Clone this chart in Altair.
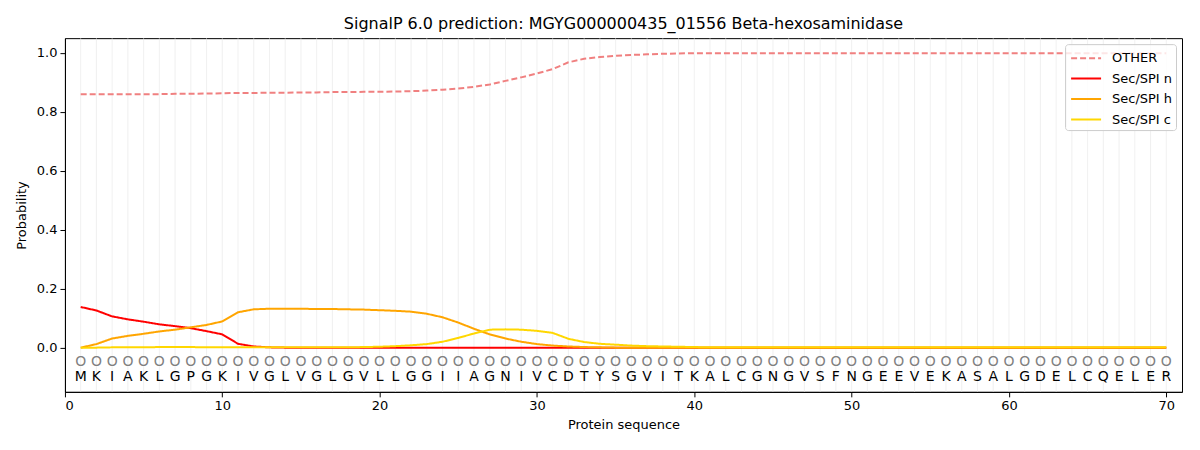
import altair as alt
import pandas as pd

title = "SignalP 6.0 prediction: MGYG000000435_01556 Beta-hexosaminidase"
sequence = list("MKIAKLGPGKIVGLVGLGVLLGGIIAGNIVCDTYSGVITKALCGNGVSFNGEEVEKASALGDELCQELER")
positions = list(range(1, len(sequence) + 1))

other = [0.860, 0.860, 0.860, 0.860, 0.860, 0.860, 0.861, 0.861, 0.862, 0.863,
         0.864, 0.864, 0.865, 0.865, 0.866, 0.866, 0.867, 0.867, 0.868, 0.868,
         0.869, 0.870, 0.872, 0.875, 0.879, 0.885, 0.893, 0.905, 0.917, 0.930,
         0.945, 0.968, 0.980, 0.986, 0.990, 0.993, 0.995, 0.997, 0.998, 0.999] + [0.999] * 30
sec_n = [0.138, 0.126, 0.106, 0.096, 0.088, 0.079, 0.073, 0.066, 0.056, 0.045,
         0.013, 0.004, 0.001] + [0.0] * 57
sec_h = [0.000, 0.012, 0.031, 0.040, 0.047, 0.055, 0.061, 0.069, 0.077, 0.089,
         0.120, 0.130, 0.132, 0.132, 0.132, 0.131, 0.131, 0.130, 0.129, 0.127,
         0.125, 0.122, 0.115, 0.103, 0.085, 0.064, 0.045, 0.031, 0.020, 0.012,
         0.007, 0.004, 0.002, 0.001] + [0.0] * 36
sec_c = [0.000, 0.000, 0.001, 0.001, 0.001, 0.002, 0.002, 0.002, 0.001, 0.001,
         0.001, 0.001, 0.001, 0.001, 0.001, 0.001, 0.001, 0.001, 0.002, 0.003,
         0.005, 0.008, 0.012, 0.020, 0.033, 0.048, 0.061, 0.062, 0.061, 0.057,
         0.050, 0.030, 0.019, 0.013, 0.010, 0.007, 0.005, 0.004, 0.003, 0.002] + [0.001] * 30

series_names = ["OTHER", "Sec/SPI n", "Sec/SPI h", "Sec/SPI c"]
series_colors = ["#F08080", "#FF0000", "#FFA500", "#FFD700"]
series_dash = [[6, 3], [1, 0], [1, 0], [1, 0]]

rows = []
for name, vals in zip(series_names, [other, sec_n, sec_h, sec_c]):
    for p, v in zip(positions, vals):
        rows.append({"pos": p, "prob": v, "series": name})
df = pd.DataFrame(rows)

seq_df = pd.DataFrame({"pos": positions, "aa": sequence, "o": ["O"] * len(sequence)})

font = "DejaVu Sans"
xscale = alt.Scale(domain=[0, 71], nice=False, zero=False)
yscale = alt.Scale(domain=[-0.15, 1.05], nice=False, zero=False)

xaxis = alt.Axis(values=list(range(0, 71, 10)), title="Protein sequence", grid=False,
                 labelFont=font, titleFont=font, labelFontSize=13, titleFontSize=13,
                 titleFontWeight="normal", labelColor="black", titleColor="black",
                 domainColor="black", tickColor="black", tickSize=5, labelPadding=3,
                 titlePadding=6)
yaxis = alt.Axis(values=[0.0, 0.2, 0.4, 0.6, 0.8, 1.0], format=".1f", title="Probability",
                 grid=False, labelFont=font, titleFont=font, labelFontSize=13, titleFontSize=13,
                 titleFontWeight="normal", labelColor="black", titleColor="black",
                 domainColor="black", tickColor="black", tickSize=5, labelPadding=3,
                 titlePadding=8)

grid = alt.Chart(seq_df).mark_rule(color="#e6e6e6", strokeWidth=1, opacity=0.6).encode(
    x=alt.X("pos:Q", scale=xscale, axis=xaxis),
)

circles = alt.Chart(seq_df).mark_text(font=font, fontSize=14, color="#808080", baseline="middle").encode(
    x=alt.X("pos:Q", scale=xscale),
    y=alt.datum(-0.05, scale=yscale),
    text="o:N",
)
letters = alt.Chart(seq_df).mark_text(font=font, fontSize=14, color="black", baseline="middle").encode(
    x=alt.X("pos:Q", scale=xscale),
    y=alt.datum(-0.1, scale=yscale),
    text="aa:N",
)

lines = alt.Chart(df).mark_line(strokeWidth=2).encode(
    x=alt.X("pos:Q", scale=xscale, axis=xaxis),
    y=alt.Y("prob:Q", scale=yscale, axis=yaxis),
    color=alt.Color("series:N", scale=alt.Scale(domain=series_names, range=series_colors),
                    sort=series_names, title=None),
    strokeDash=alt.StrokeDash("series:N", scale=alt.Scale(domain=series_names, range=series_dash),
                              sort=series_names, title=None),
    order=alt.Order("pos:Q"),
)

chart = alt.layer(grid, circles, letters, lines).properties(
    width=1118, height=354,
    title=alt.TitleParams(title, font=font, fontSize=16, fontWeight="normal", color="black",
                          anchor="middle", offset=6),
    autosize=alt.AutoSizeParams(type="none"),
    padding={"left": 57, "top": 30, "right": 10, "bottom": 40},
).configure_view(stroke="black", strokeWidth=1).configure_legend(
    orient="top-right", offset=6, fillColor="rgba(255,255,255,0.8)", strokeColor="#cccccc",
    cornerRadius=3, padding=3, labelFont=font, labelFontSize=13, labelColor="black",
    symbolType="M-0.8,0L2.2,0", symbolSize=400, symbolStrokeWidth=2, rowPadding=2.5,
    labelLimit=200, labelOffset=22,
)

chart.save("out.html", embed_options={"renderer": "svg", "actions": False})
